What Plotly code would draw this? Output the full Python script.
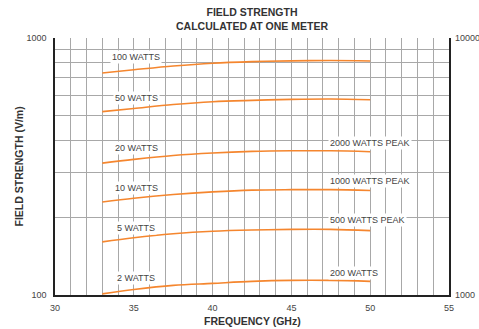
import math
import plotly.graph_objects as go

freq = [33, 35, 37.5, 40, 42.5, 45, 47.5, 50]
w100 = [731, 752, 778, 798, 809, 815, 817, 814]
w50 = [517, 532, 551, 565, 572, 577, 579, 575]
w20 = [326, 337, 349, 357, 362, 364, 364, 361]
w10 = [230, 238, 246, 252, 256, 257, 257, 255]
w5 = [161, 167, 173, 177, 179, 180, 180, 178]
w2 = [101, 105, 109, 111, 113, 114, 114, 113]

series = [w100, w50, w20, w10, w5, w2]

left_labels = ["100 WATTS", "50 WATTS", "20 WATTS", "10 WATTS", "5 WATTS", "2 WATTS"]
left_label_y = [841, 584, 372, 261, 183, 116]
right_labels = ["2000 WATTS PEAK", "1000 WATTS PEAK", "500 WATTS PEAK", "200 WATTS"]
right_label_x = [50.0, 50.0, 49.86, 49.0]
right_label_y = [391, 278, 196, 122]

x_ticks = list(range(30, 56))
x_ticktext = [str(v) if v % 5 == 0 else "" for v in x_ticks]
y_ticks = [100, 200, 300, 400, 500, 600, 700, 800, 900, 1000]
y_ticktext = ["100", "", "", "", "", "", "", "", "", "1000"]
y2_ticks = [1000, 10000]
y2_ticktext = ["1000", "10000"]

FONT = "Liberation Sans, Arial, sans-serif"
ORANGE = "#f5862e"
GRID = "#a8a8a8"

fig = go.Figure()
for s in series:
    fig.add_trace(go.Scatter(x=freq, y=s, mode="lines",
                             line=dict(color=ORANGE, width=1.6, shape="spline"),
                             showlegend=False, hoverinfo="skip"))
fig.add_trace(go.Scatter(x=[30], y=[1000], yaxis="y2", mode="markers",
                         marker=dict(opacity=0), showlegend=False, hoverinfo="skip"))

ann = []
for t, yv in zip(left_labels, left_label_y):
    ann.append(dict(x=35.17, y=math.log10(yv), xref="x", yref="y", text=t, showarrow=False,
                    font=dict(size=9, color="#444", family=FONT),
                    bgcolor="white", borderpad=1, xanchor="center", yanchor="middle"))
for t, xv, yv in zip(right_labels, right_label_x, right_label_y):
    ann.append(dict(x=xv, y=math.log10(yv), xref="x", yref="y", text=t, showarrow=False,
                    font=dict(size=9, color="#444", family=FONT),
                    bgcolor="white", borderpad=1, xanchor="center", yanchor="middle"))
ann.append(dict(x=0.5, y=1.074, xref="paper", yref="paper",
                text="<b>FIELD STRENGTH<br>CALCULATED AT ONE METER</b>",
                showarrow=False, font=dict(size=10.5, color="#333", family=FONT),
                xanchor="center", yanchor="middle"))
ann.append(dict(x=0.5, y=-0.1, xref="paper", yref="paper",
                text="<b>FREQUENCY (GHz)</b>", showarrow=False,
                font=dict(size=10.5, color="#333", family=FONT),
                xanchor="center", yanchor="middle"))
ann.append(dict(x=-0.0914, y=0.5, xref="paper", yref="paper",
                text="<b>FIELD STRENGTH (V/m)</b>", showarrow=False, textangle=-90,
                font=dict(size=10.5, color="#333", family=FONT),
                xanchor="center", yanchor="middle"))

fig.update_layout(
    width=479, height=329,
    margin=dict(l=55, r=30, t=38, b=34, autoexpand=False),
    paper_bgcolor="white", plot_bgcolor="white",
    font=dict(family=FONT, size=9, color="#444"),
    annotations=ann,
    xaxis=dict(range=[30, 55], tickmode="array", tickvals=x_ticks, ticktext=x_ticktext,
               showgrid=True, gridcolor=GRID, gridwidth=1,
               showline=True, linecolor="#222", linewidth=1.5,
               ticks="", zeroline=False, ticklabelstandoff=3, automargin=False,
               tickfont=dict(size=9, color="#444")),
    yaxis=dict(type="log", range=[2, 3], tickmode="array", tickvals=y_ticks, ticktext=y_ticktext,
               showgrid=True, gridcolor=GRID, gridwidth=1,
               showline=True, linecolor="#222", linewidth=1.5, mirror=True,
               ticks="", zeroline=False, ticklabelstandoff=5, automargin=False,
               tickfont=dict(size=9, color="#444")),
    yaxis2=dict(type="log", range=[3, 4], overlaying="y", side="right",
                tickmode="array", tickvals=y2_ticks, ticktext=y2_ticktext,
                showgrid=False, showline=False, ticks="", zeroline=False,
                ticklabelstandoff=5, automargin=False,
                tickfont=dict(size=9, color="#444")),
)

fig.write_html("out.html", config={"displayModeBar": False},
               post_script="document.body.style.margin='0';document.body.style.overflow='hidden';")
